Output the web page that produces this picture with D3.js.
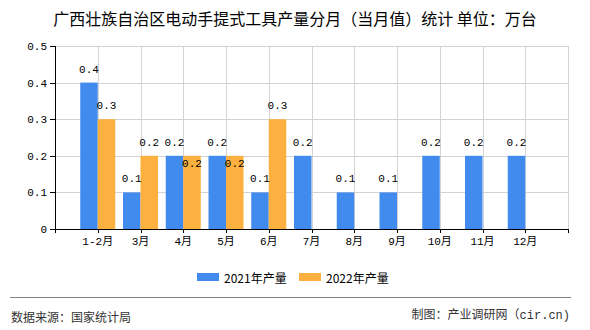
<!DOCTYPE html>
<html><head><meta charset="utf-8">
<script src="https://cdn.jsdelivr.net/npm/d3@7/dist/d3.min.js"></script>
<style>
html,body{margin:0;padding:0;background:#fff;}
svg{display:block;}
</style></head>
<body><svg id="c" width="590" height="330"></svg>
<script>
const categories = ["1-2月","3月","4月","5月","6月","7月","8月","9月","10月","11月","12月"];
const series2021 = [0.4,0.1,0.2,0.2,0.1,0.2,0.1,0.1,0.2,0.2,0.2];
const series2022 = [0.3,0.2,0.2,0.2,0.3,null,null,null,null,null,null];
const yTicks = [0,0.1,0.2,0.3,0.4,0.5];
const seriesNames = ["2021年产量","2022年产量"];
const colors = ["#428bee","#fbb03f"];

const svg = d3.select("#c");
const pL = 55, pR = 568, pT = 46, pB = 229;
const x = d3.scaleLinear().domain([0, categories.length + 1]).range([pL, pR]);
const y = d3.scaleLinear().domain([0, 0.5]).range([pB, pT]);
const numFont = "'Liberation Mono','DejaVu Sans Mono',monospace";
const cjkFont = "'Liberation Mono','Noto Sans CJK SC',monospace";
const bw = 17.5;

// title
svg.append("text").attr("x", 295).attr("y", 18).attr("text-anchor","middle")
  .attr("dominant-baseline","central")
  .style("font-family","'Noto Sans CJK SC',sans-serif").style("font-size","16px").style("fill","#000")
  .text("广西壮族自治区电动手提式工具产量分月（当月值）统计 单位：万台");

// grid
const g = svg.append("g");
g.selectAll(".hg").data(yTicks.filter(d=>d>0)).enter().append("line")
  .attr("x1", pL).attr("x2", pR).attr("y1", d=>Math.round(y(d))+0.5).attr("y2", d=>Math.round(y(d))+0.5)
  .attr("stroke","#d3d3d3").attr("stroke-width",1);
const vIdx = d3.range(1, categories.length + 2);
g.selectAll(".vg").data(vIdx).enter().append("line")
  .attr("x1", d=>Math.round(x(d))+0.5).attr("x2", d=>Math.round(x(d))+0.5).attr("y1", pT).attr("y2", pB)
  .attr("stroke","#d3d3d3").attr("stroke-width",1);

// bars
const bars = svg.append("g");
categories.forEach((c,i)=>{
  const cx = x(i+1);
  if (series2021[i] != null) {
    bars.append("rect").attr("x", cx - bw).attr("y", y(series2021[i])).attr("width", bw)
      .attr("height", y(0) - y(series2021[i])).attr("fill", colors[0]);
  }
  if (series2022[i] != null) {
    bars.append("rect").attr("x", cx).attr("y", y(series2022[i])).attr("width", bw)
      .attr("height", y(0) - y(series2022[i])).attr("fill", colors[1]);
  }
});

// axes
const ax = svg.append("g");
ax.append("line").attr("x1", pL+0.5).attr("x2", pL+0.5).attr("y1", pT).attr("y2", pB+0.5).attr("stroke","#000");
ax.append("line").attr("x1", pL).attr("x2", pR+0.5).attr("y1", pB+0.5).attr("y2", pB+0.5).attr("stroke","#000");
yTicks.forEach(t=>{
  const yy = Math.round(y(t))+0.5;
  ax.append("line").attr("x1", pL-5).attr("x2", pL).attr("y1", yy).attr("y2", yy).attr("stroke","#000");
  ax.append("text").attr("x", 47).attr("y", yy).attr("text-anchor","end").attr("dominant-baseline","central")
    .style("font-family", numFont).style("font-size","11px").style("fill","#000").text(t===0?"0":t.toFixed(1));
});
d3.range(0, categories.length + 2).forEach(i=>{
  const xx = Math.round(x(i))+0.5;
  ax.append("line").attr("x1", xx).attr("x2", xx).attr("y1", pB).attr("y2", pB+4).attr("stroke","#000");
});
categories.forEach((c,i)=>{
  ax.append("text").attr("x", x(i+1)).attr("y", 242).attr("text-anchor","middle").attr("dominant-baseline","central")
    .style("font-family", cjkFont).style("font-size","11px").style("fill","#000").text(c);
});

// value labels
const lab = svg.append("g").style("font-family", numFont).style("font-size","11px").style("fill","#000");
categories.forEach((c,i)=>{
  const cx = x(i+1);
  const a = series2021[i], b = series2022[i];
  if (a != null) {
    lab.append("text").attr("x", cx - bw/2).attr("y", y(a) - 13).attr("text-anchor","middle")
      .attr("dominant-baseline","central").text(a.toFixed(1));
  }
  if (b != null) {
    const off = (a != null && a === b) ? 8 : -13;
    lab.append("text").attr("x", cx + bw/2).attr("y", y(b) + off).attr("text-anchor","middle")
      .attr("dominant-baseline","central").text(b.toFixed(1));
  }
});

// legend
const leg = svg.append("g");
const legX = [197, 299];
seriesNames.forEach((n,i)=>{
  leg.append("rect").attr("x", legX[i]).attr("y", 273).attr("width", 22).attr("height", 8).attr("fill", colors[i]);
  leg.append("text").attr("x", legX[i] + 27).attr("y", 277.5).attr("dominant-baseline","central")
    .style("font-family","'Noto Sans CJK SC',sans-serif").style("font-size","12px").style("fill","#000").text(n);
});

// footer
svg.append("line").attr("x1", 10).attr("x2", 571).attr("y1", 297.5).attr("y2", 297.5).attr("stroke","#808080");
svg.append("text").attr("x", 11).attr("y", 316).attr("dominant-baseline","central")
  .style("font-family","'Noto Sans CJK SC',sans-serif").style("font-size","12px").style("fill","#333")
  .text("数据来源：国家统计局");
svg.append("text").attr("x", 570).attr("y", 316).attr("text-anchor","end").attr("dominant-baseline","central")
  .style("font-family","'Liberation Mono','Noto Sans CJK SC',sans-serif").style("font-size","12px").style("fill","#333")
  .text("制图：产业调研网（cir.cn)");
</script></body></html>
